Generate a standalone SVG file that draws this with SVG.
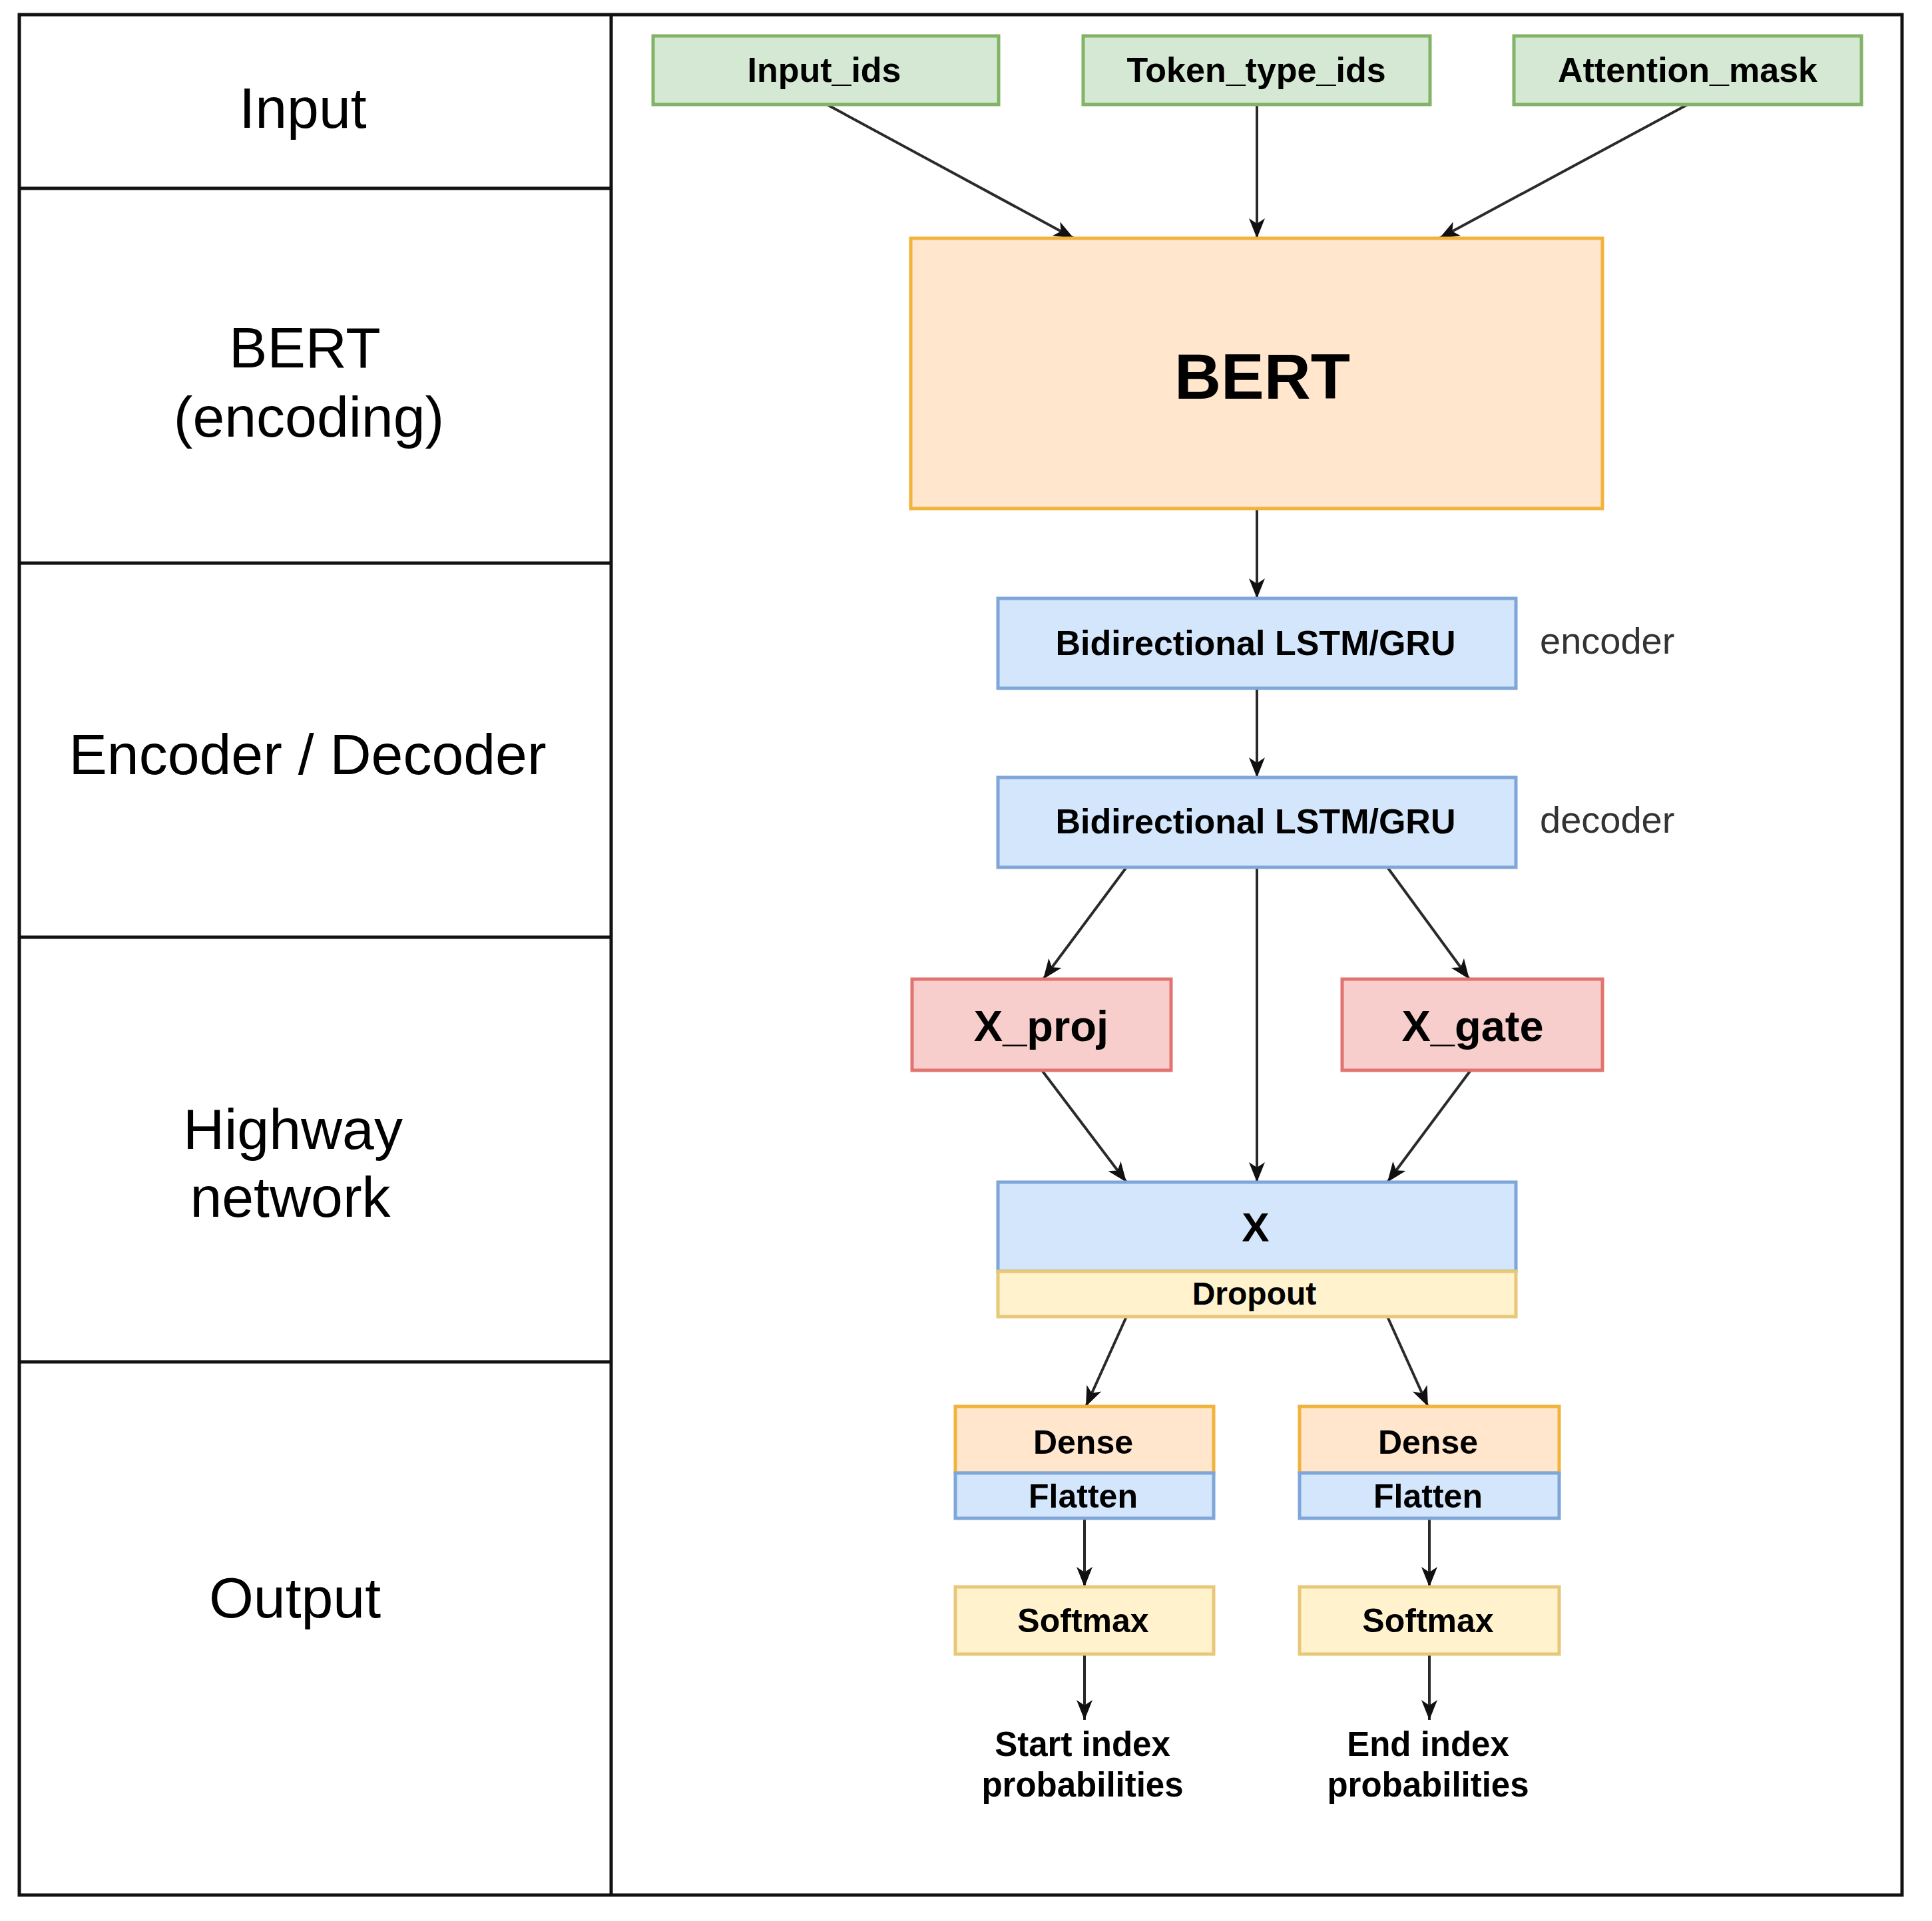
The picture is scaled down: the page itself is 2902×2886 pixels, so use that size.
<svg xmlns="http://www.w3.org/2000/svg" width="2902" height="2886" viewBox="0 0 2902 2886">
  <defs>
    <marker id="arrow" viewBox="-32 -14 34 28" refX="0" refY="0" markerWidth="34" markerHeight="28" markerUnits="userSpaceOnUse" orient="auto">
      <path d="M0,0 L-30,-12 L-22,0 L-30,12 Z" fill="#111111"/>
    </marker>
    <style>
      text { font-family: "Liberation Sans", Arial, Helvetica, sans-serif; fill: #000000; }
      .lane { font-size: 86px; text-anchor: middle; }
      .lbl { font-weight: bold; text-anchor: middle; }
      .side { font-size: 56px; fill: #333333; }
      .frame { fill: none; stroke: #111111; stroke-width: 5; }
      .green { fill: #d5e8d4; stroke: #82b366; stroke-width: 5; }
      .orange { fill: #ffe6cc; stroke: #f2b33d; stroke-width: 5; }
      .blue { fill: #d4e6fb; stroke: #7fa6d9; stroke-width: 5; }
      .red { fill: #f8cecc; stroke: #e27370; stroke-width: 5; }
      .yellow { fill: #fff2cc; stroke: #e8c878; stroke-width: 5; }
      .edge { fill: none; stroke: #2a2a2a; stroke-width: 4; marker-end: url(#arrow); }
    </style>
  </defs>
  <rect x="0" y="0" width="2902" height="2886" fill="#ffffff"/>

  <g id="frame">
    <rect class="frame" x="29" y="22" width="2828" height="2825"/>
    <line class="frame" x1="918" y1="22" x2="918" y2="2847"/>
    <line class="frame" x1="29" y1="283" x2="918" y2="283"/>
    <line class="frame" x1="29" y1="846" x2="918" y2="846"/>
    <line class="frame" x1="29" y1="1408" x2="918" y2="1408"/>
    <line class="frame" x1="29" y1="2046" x2="918" y2="2046"/>
  </g>

  <g id="lane-labels">
    <text class="lane" x="455" y="192">Input</text>
    <text class="lane" x="458" y="552">BERT</text>
    <text class="lane" x="464" y="656">(encoding)</text>
    <text class="lane" x="462" y="1163">Encoder / Decoder</text>
    <text class="lane" x="440" y="1726">Highway</text>
    <text class="lane" x="436" y="1828">network</text>
    <text class="lane" x="443" y="2430">Output</text>
  </g>

  <g id="connectors">
    <line class="edge" x1="1242" y1="157" x2="1613" y2="358"/>
    <line class="edge" x1="1888" y1="157" x2="1888" y2="358"/>
    <line class="edge" x1="2535" y1="157" x2="2162" y2="358"/>
    <line class="edge" x1="1888" y1="764" x2="1888" y2="899"/>
    <line class="edge" x1="1888" y1="1034" x2="1888" y2="1168"/>
    <line class="edge" x1="1692" y1="1303" x2="1567" y2="1471"/>
    <line class="edge" x1="2084" y1="1303" x2="2207" y2="1471"/>
    <line class="edge" x1="1888" y1="1303" x2="1888" y2="1776"/>
    <line class="edge" x1="1565" y1="1608" x2="1692" y2="1776"/>
    <line class="edge" x1="2209" y1="1608" x2="2084" y2="1776"/>
    <line class="edge" x1="1692" y1="1978" x2="1631" y2="2113"/>
    <line class="edge" x1="2084" y1="1978" x2="2145" y2="2113"/>
    <line class="edge" x1="1629" y1="2281" x2="1629" y2="2384"/>
    <line class="edge" x1="2147" y1="2281" x2="2147" y2="2384"/>
    <line class="edge" x1="1629" y1="2485" x2="1629" y2="2584"/>
    <line class="edge" x1="2147" y1="2485" x2="2147" y2="2584"/>
  </g>

  <g id="node-input-ids">
    <rect class="green" x="981" y="54" width="519" height="103"/>
    <text class="lbl" x="1238" y="123" font-size="52">Input_ids</text>
  </g>
  <g id="node-token-type-ids">
    <rect class="green" x="1627" y="54" width="521" height="103"/>
    <text class="lbl" x="1887" y="123" font-size="52">Token_type_ids</text>
  </g>
  <g id="node-attention-mask">
    <rect class="green" x="2274" y="54" width="522" height="103"/>
    <text class="lbl" x="2535" y="123" font-size="52">Attention_mask</text>
  </g>

  <g id="node-bert">
    <rect class="orange" x="1368" y="358" width="1039" height="406"/>
    <text class="lbl" x="1896" y="599" font-size="97">BERT</text>
  </g>

  <g id="node-encoder">
    <rect class="blue" x="1499" y="899" width="778" height="135"/>
    <text class="lbl" x="1886" y="984" font-size="52">Bidirectional LSTM/GRU</text>
    <text class="side" x="2313" y="982">encoder</text>
  </g>
  <g id="node-decoder">
    <rect class="blue" x="1499" y="1168" width="778" height="135"/>
    <text class="lbl" x="1886" y="1252" font-size="52">Bidirectional LSTM/GRU</text>
    <text class="side" x="2313" y="1251">decoder</text>
  </g>

  <g id="node-x-proj">
    <rect class="red" x="1370" y="1471" width="389" height="137"/>
    <text class="lbl" x="1564" y="1564" font-size="65">X_proj</text>
  </g>
  <g id="node-x-gate">
    <rect class="red" x="2016" y="1471" width="391" height="137"/>
    <text class="lbl" x="2212" y="1564" font-size="65">X_gate</text>
  </g>

  <g id="node-x">
    <rect class="blue" x="1499" y="1776" width="778" height="134"/>
    <text class="lbl" x="1886" y="1865" font-size="62">X</text>
  </g>
  <g id="node-dropout">
    <rect class="yellow" x="1499" y="1910" width="778" height="68"/>
    <text class="lbl" x="1884" y="1960" font-size="48">Dropout</text>
  </g>

  <g id="node-dense-start">
    <rect class="orange" x="1435" y="2113" width="388" height="100"/>
    <text class="lbl" x="1627" y="2184" font-size="50">Dense</text>
  </g>
  <g id="node-flatten-start">
    <rect class="blue" x="1435" y="2213" width="388" height="68"/>
    <text class="lbl" x="1627" y="2265" font-size="50">Flatten</text>
  </g>
  <g id="node-softmax-start">
    <rect class="yellow" x="1435" y="2384" width="388" height="101"/>
    <text class="lbl" x="1627" y="2452" font-size="50">Softmax</text>
  </g>
  <g id="node-start-output">
    <text class="lbl" x="1626" y="2638" font-size="51">Start index</text>
    <text class="lbl" x="1626" y="2699" font-size="51">probabilities</text>
  </g>

  <g id="node-dense-end">
    <rect class="orange" x="1952" y="2113" width="390" height="100"/>
    <text class="lbl" x="2145" y="2184" font-size="50">Dense</text>
  </g>
  <g id="node-flatten-end">
    <rect class="blue" x="1952" y="2213" width="390" height="68"/>
    <text class="lbl" x="2145" y="2265" font-size="50">Flatten</text>
  </g>
  <g id="node-softmax-end">
    <rect class="yellow" x="1952" y="2384" width="390" height="101"/>
    <text class="lbl" x="2145" y="2452" font-size="50">Softmax</text>
  </g>
  <g id="node-end-output">
    <text class="lbl" x="2145" y="2638" font-size="51">End index</text>
    <text class="lbl" x="2145" y="2699" font-size="51">probabilities</text>
  </g>
</svg>
